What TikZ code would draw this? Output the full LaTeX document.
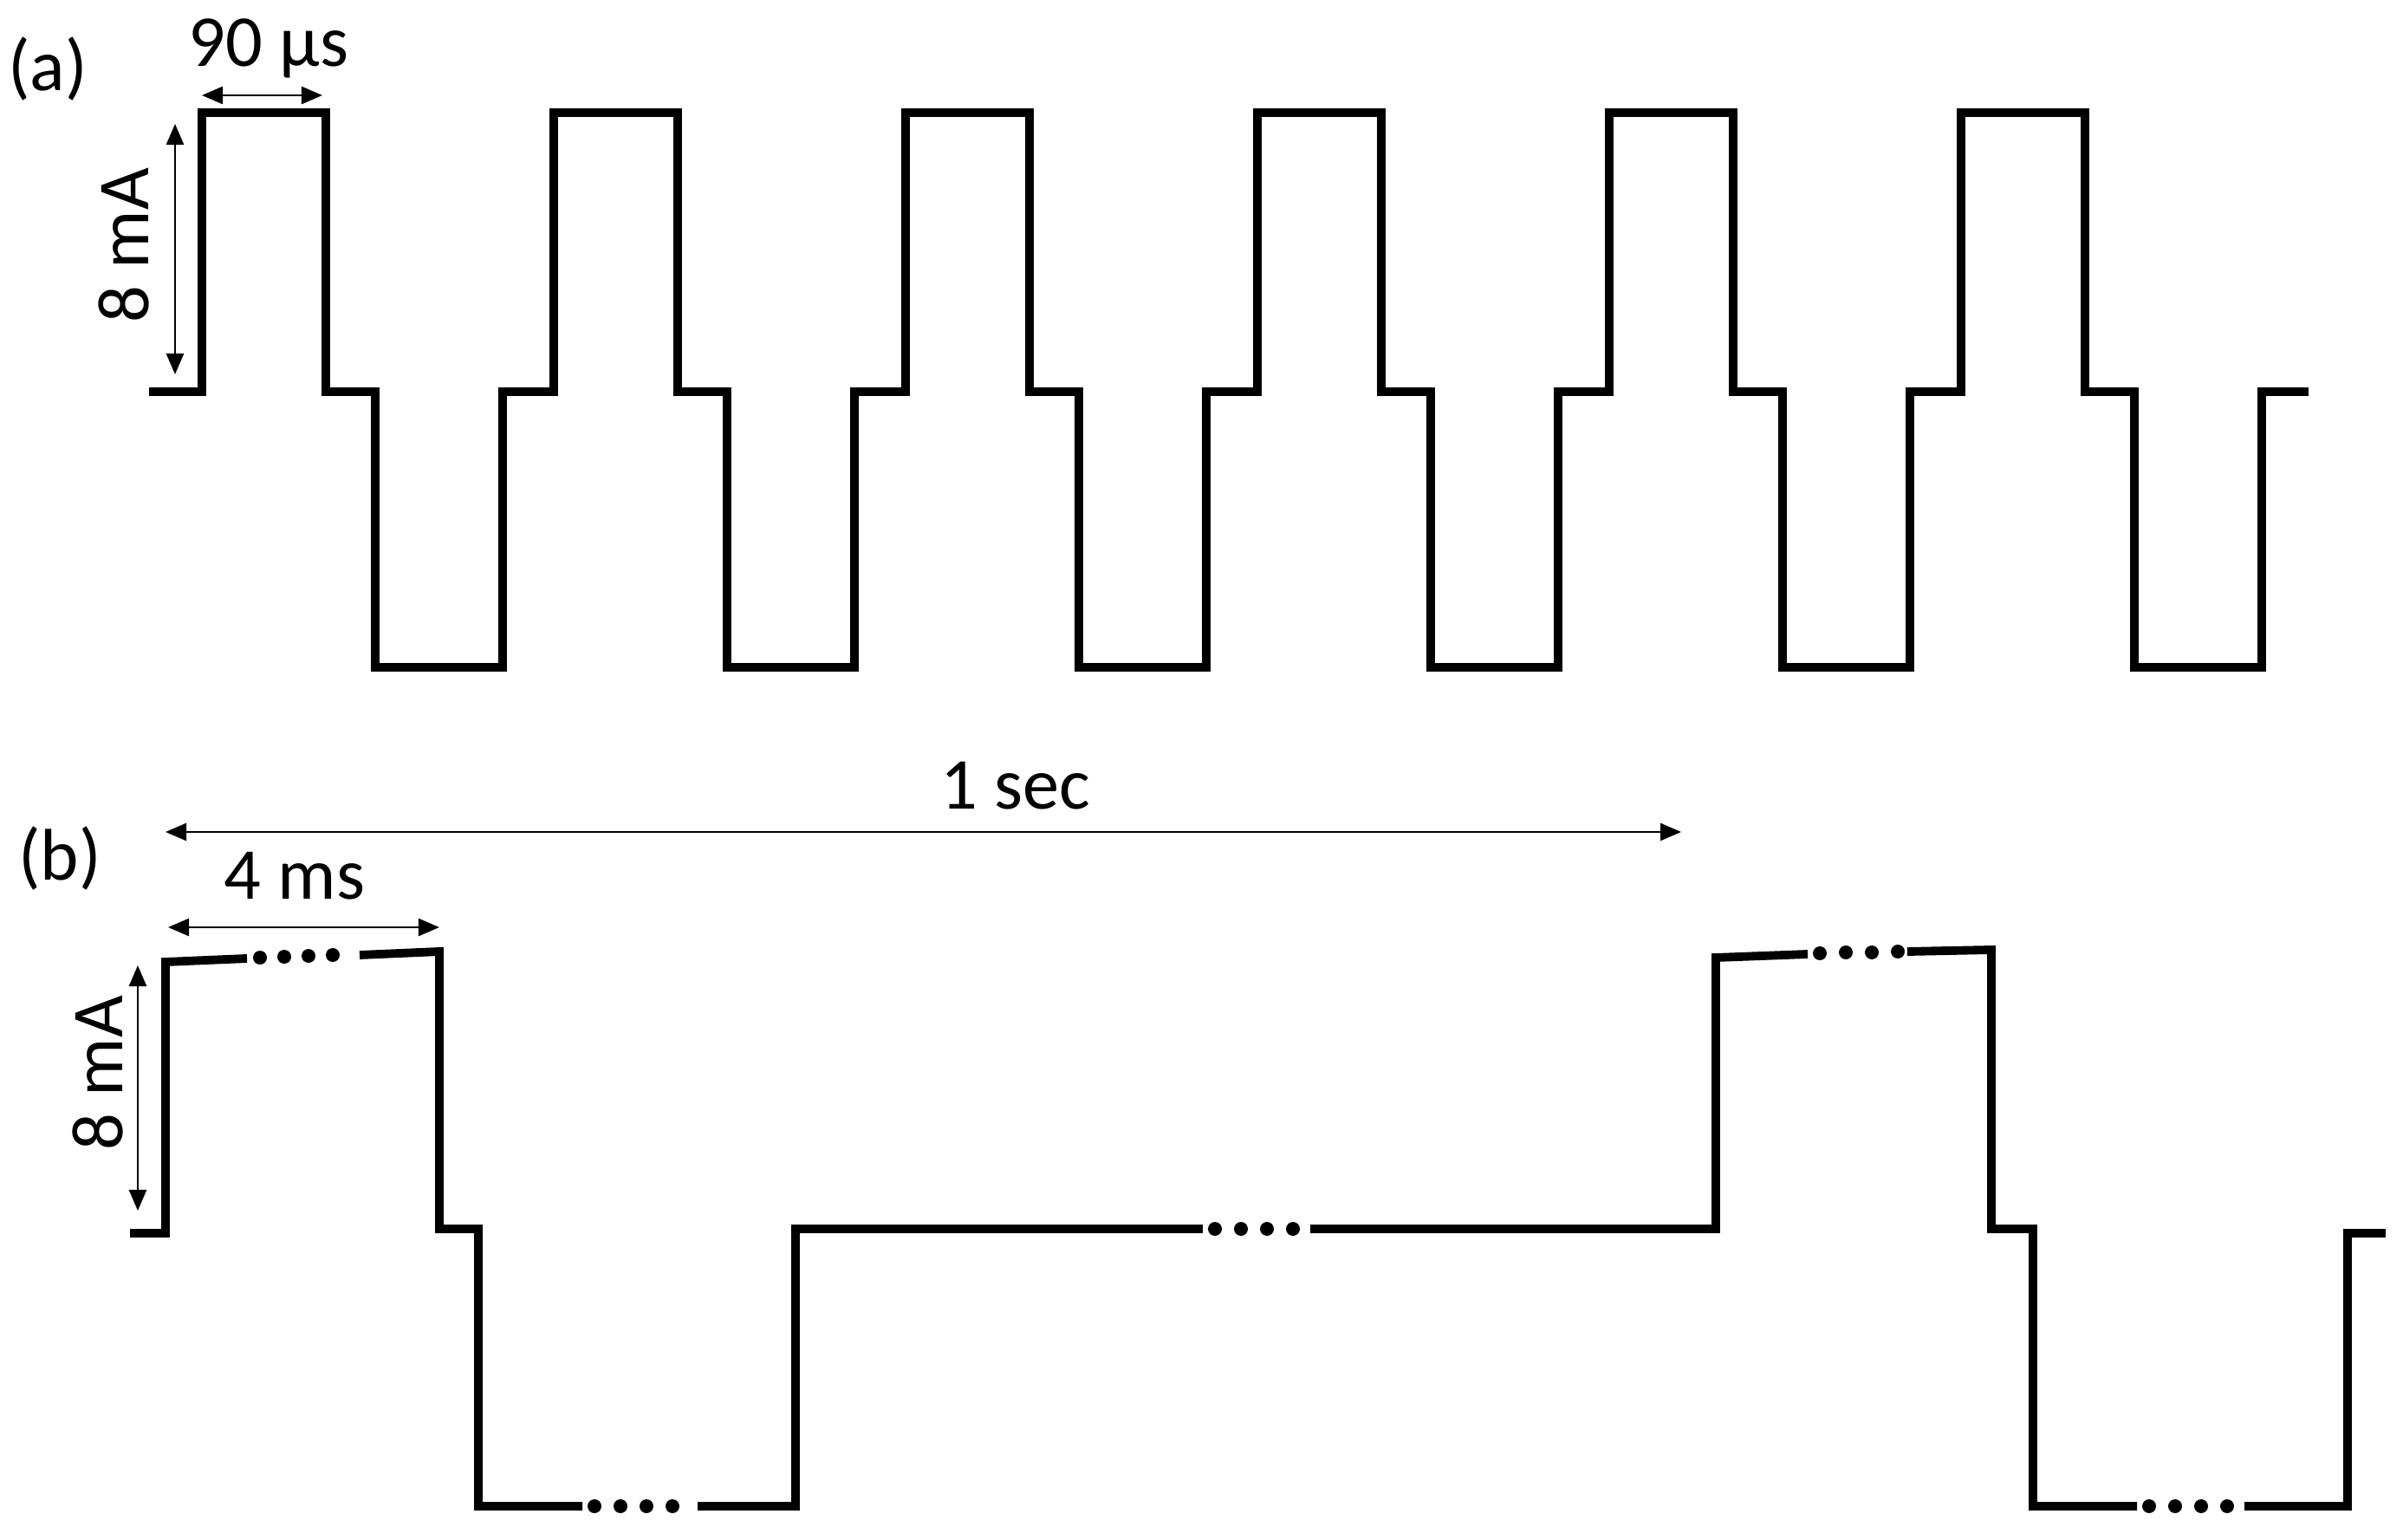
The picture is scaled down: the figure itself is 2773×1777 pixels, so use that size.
\documentclass[tikz,border=0pt]{standalone}
\usepackage{fontspec}
\setmainfont{Carlito}
\usetikzlibrary{arrows.meta}
\begin{document}
\begin{tikzpicture}[x=0.01cm,y=-0.01cm,
  wave/.style={line width=2.8pt,line join=miter},
  dim/.style={line width=0.7pt,{Triangle[length=0.24cm,width=0.2cm]}-{Triangle[length=0.24cm,width=0.2cm]}},
  lbl/.style={font=\fontsize{24}{28}\selectfont,inner sep=0pt},
  dotc/.style={fill=black}]
\useasboundingbox (0,0) rectangle (2773,1777);
% panel (a)
\draw[wave] (172,452) -- (233,452)
  \foreach \r in {233,639,1045,1451,1857,2263}{
    -- (\r,452) -- (\r,130) -- (\r+143,130) -- (\r+143,452) -- (\r+200,452) -- (\r+200,770) -- (\r+347,770) -- (\r+347,452)
  } -- (2664,452);
\coordinate (a1) at (233,110); \coordinate (a2) at (372,110);
\draw[dim] (a1) -- (a2);
\node[lbl] (t90) at (310,56) {90 µs};
\coordinate (v1) at (202,143); \coordinate (v2) at (202,432);
\draw[dim] (v1) -- (v2);
\node[lbl,rotate=90] (t8a) at (143,283) {8 mA};
\node[lbl] (la) at (55,80) {(a)};
% panel (b)
\draw[wave] (150,1423) -- (191,1423) -- (191,1110) -- (285,1106);
\draw[wave] (415,1102) -- (507,1098) -- (507,1418) -- (552,1418) -- (552,1738) -- (672,1738);
\draw[wave] (805,1738) -- (918,1738) -- (918,1418) -- (1388,1418);
\draw[wave] (1512,1418) -- (1980,1418) -- (1980,1105) -- (2086,1101);
\draw[wave] (2201,1098) -- (2298,1096) -- (2298,1418) -- (2346,1418) -- (2346,1738) -- (2466,1738);
\draw[wave] (2590,1738) -- (2709,1738) -- (2709,1423) -- (2753,1423);
\foreach \x/\y in {300/1105,328/1104,356/1103,384/1102,
                   686/1738,716/1738,746/1738,776/1738,
                   1402/1418,1432/1418,1462/1418,1492/1418,
                   2100/1100,2130/1099,2160/1099,2190/1098,
                   2480/1738,2510/1738,2540/1738,2570/1738}
  \fill[dotc] (\x,\y) circle (8);
\coordinate (s1) at (191,960); \coordinate (s2) at (1940,960);
\draw[dim] (s1) -- (s2);
\node[lbl] (t1s) at (1172,907) {1 sec};
\coordinate (m1) at (194,1070); \coordinate (m2) at (507,1070);
\draw[dim] (m1) -- (m2);
\node[lbl] (t4) at (340,1011) {4 ms};
\coordinate (w1) at (159,1114); \coordinate (w2) at (159,1397);
\draw[dim] (w1) -- (w2);
\node[lbl,rotate=90] (t8b) at (113,1238) {8 mA};
\node[lbl] (lb) at (69,990) {(b)};
\end{tikzpicture}
\end{document}
